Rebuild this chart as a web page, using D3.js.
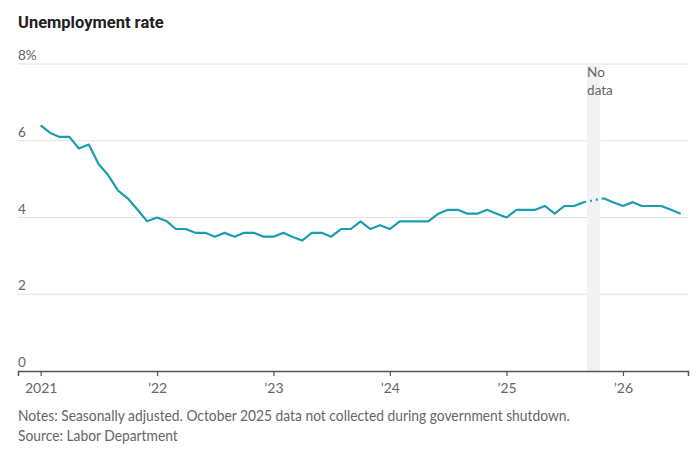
<!DOCTYPE html>
<html>
<head>
<meta charset="utf-8">
<script src="https://cdn.jsdelivr.net/npm/d3@7"></script>
<style>
  body { margin: 0; background: #fff; }
  svg text { font-family: Lato, 'Liberation Sans Narrow', sans-serif; fill: #666; }
  .title { font-family: Roboto, 'Noto Sans', sans-serif; font-weight: 700; fill: #222; }
</style>
</head>
<body>
<div id="chart"></div>
<script>
const width = 700
const height = 456

// monthly unemployment rate, Jan 2021 onward (null = not collected)
const startYear = 2021
const rates = [
  6.4, 6.2, 6.1, 6.1, 5.8, 5.9, 5.4, 5.1, 4.7, 4.5, 4.2, 3.9,
  4.0, 3.9, 3.7, 3.7, 3.6, 3.6, 3.5, 3.6, 3.5, 3.6, 3.6, 3.5,
  3.5, 3.6, 3.5, 3.4, 3.6, 3.6, 3.5, 3.7, 3.7, 3.9, 3.7, 3.8,
  3.7, 3.9, 3.9, 3.9, 3.9, 4.1, 4.2, 4.2, 4.1, 4.1, 4.2, 4.1,
  4.0, 4.2, 4.2, 4.2, 4.3, 4.1, 4.3, 4.3, 4.4, null, 4.5, 4.4,
  4.3, 4.4, 4.3, 4.3, 4.3, 4.2, 4.1
]
const yTicks = [0, 2, 4, 6, 8]
const xTickYears = [2021, 2022, 2023, 2024, 2025, 2026]
const gapMonth = new Date(2025, 9, 1)
const notes = 'Notes: Seasonally adjusted. October 2025 data not collected during government shutdown.'
const source = 'Source: Labor Department'

const data = rates.map((v, i) => ({ date: new Date(startYear, i, 1), value: v }))

const svg = d3.select('#chart')
  .append('svg')
  .attr('width', width)
  .attr('height', height)

const x = d3.scaleTime()
  .domain([new Date(2020, 9, 22), new Date(2026, 6, 24)])
  .range([18, 688])

const y = d3.scaleLinear()
  .domain([0, 8])
  .range([371, 64])

svg.append('text')
  .attr('class', 'title')
  .attr('x', 18)
  .attr('y', 28)
  .style('font-size', '16.5px')
  .text('Unemployment rate')

// gridlines
svg.selectAll('.grid')
  .data(yTicks.filter(d => d > 0))
  .enter()
  .append('line')
  .attr('class', 'grid')
  .attr('x1', 18)
  .attr('x2', 688)
  .attr('y1', d => y(d))
  .attr('y2', d => y(d))
  .attr('stroke', '#e2e2e2')
  .attr('stroke-width', 1)

// no data band
const gx = x(gapMonth)
svg.append('rect')
  .attr('x', gx - 6.5)
  .attr('width', 13)
  .attr('y', y(8))
  .attr('height', y(0) - y(8))
  .attr('fill', '#f1f2f3')

svg.append('text')
  .attr('x', gx - 6.5)
  .attr('y', 77)
  .style('font-size', '13.5px')
  .text('No')
svg.append('text')
  .attr('x', gx - 6.5)
  .attr('y', 95)
  .style('font-size', '13.5px')
  .text('data')

// y labels
svg.selectAll('.ylabel')
  .data(yTicks)
  .enter()
  .append('text')
  .attr('class', 'ylabel')
  .attr('x', 18)
  .attr('y', d => y(d) - 4)
  .style('font-size', '13.5px')
  .text(d => d === 8 ? d + '%' : d)

// x axis
const xAxis = d3.axisBottom(x)
  .tickValues(xTickYears.map(yr => new Date(yr, 0, 1)))
  .tickSize(5)
  .tickFormat(d => d.getFullYear() === 2021 ? '2021' : '\u2019' + String(d.getFullYear()).slice(2))

const ax = svg.append('g')
  .attr('transform', `translate(0,${y(0)})`)
  .call(xAxis)
ax.select('.domain').attr('stroke', '#555').attr('stroke-width', 1.5)
ax.selectAll('.tick line').attr('stroke', '#555').attr('stroke-width', 1.2)
ax.selectAll('.tick text')
  .attr('dy', 0)
  .attr('y', 21.5)
  .style('font-size', '14px')
  .style('font-family', 'Lato, sans-serif')
  .attr('fill', '#555')

// line
const line = d3.line()
  .defined(d => d.value !== null)
  .x(d => x(d.date))
  .y(d => y(d.value))

const gapIdx = data.findIndex(d => d.value === null)
const bridge = [data[gapIdx - 1], data[gapIdx + 1]]

svg.append('path')
  .datum(bridge)
  .attr('d', d3.line().x(d => x(d.date)).y(d => y(d.value)))
  .attr('fill', 'none')
  .attr('stroke', '#1a9db3')
  .attr('stroke-width', 2.2)
  .attr('stroke-dasharray', '2 4')

svg.append('path')
  .datum(data)
  .attr('d', line)
  .attr('fill', 'none')
  .attr('stroke', '#1a9db3')
  .attr('stroke-width', 2.2)
  .attr('stroke-linejoin', 'round')

// footnotes, squeezed a bit to look like the narrow face
const foot = svg.append('g')
  .attr('transform', 'translate(18,0) scale(0.953,1)')
foot.append('text')
  .attr('x', 0)
  .attr('y', 421)
  .style('font-size', '14.5px')
  .text(notes)
foot.append('text')
  .attr('x', 0)
  .attr('y', 441)
  .style('font-size', '14.5px')
  .text(source)
</script>
</body>
</html>
